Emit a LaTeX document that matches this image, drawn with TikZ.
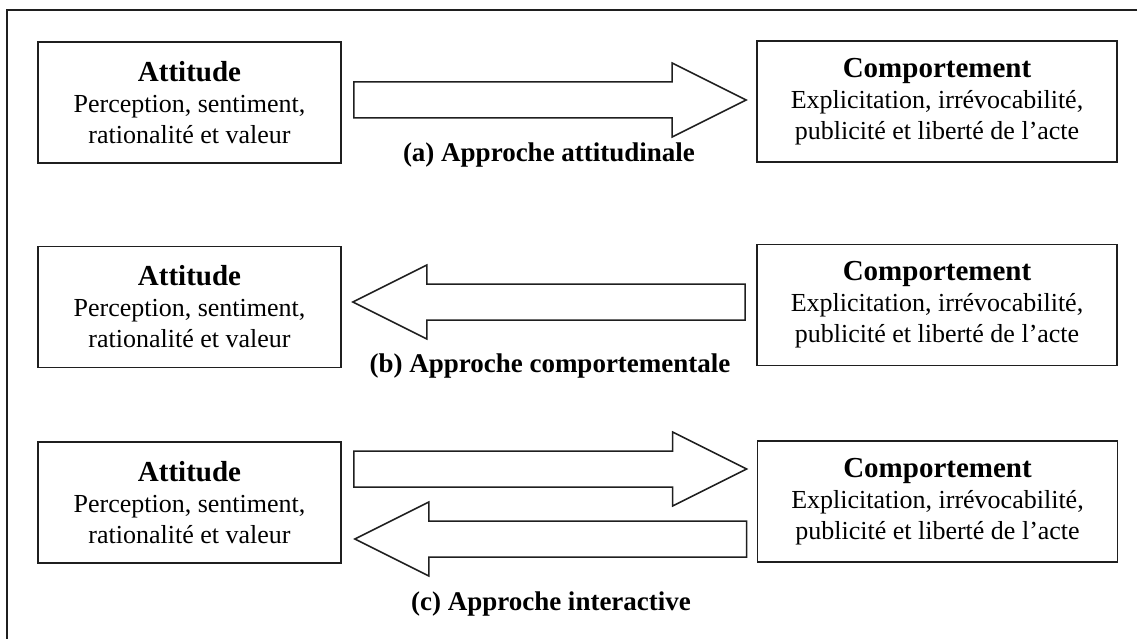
\documentclass[tikz,border=0pt]{standalone}
\usepackage{fontspec}
\setmainfont{Liberation Serif}
\usetikzlibrary{calc}

% font sizes (1 unit = 1pt)
\newcommand\titlefont{\fontsize{29}{31}\selectfont\bfseries}
\newcommand\bodyfont{\fontsize{26}{31}\selectfont}
\newcommand\capfont{\fontsize{27}{31}\selectfont\bfseries}

% hollow block arrow from #1 to #2 (horizontal); #3 = 1 to the right, -1 to the left
\newcommand\hollowarrow[3]{%
  \draw[arrowline] let \p1=#1, \p2=#2 in
    (\x1,{\y1+18pt}) -- ({\x2-(#3)*74pt},{\y1+18pt}) -- ({\x2-(#3)*74pt},{\y1+37pt})
    -- (\x2,\y1) -- ({\x2-(#3)*74pt},{\y1-37pt}) -- ({\x2-(#3)*74pt},{\y1-18pt})
    -- (\x1,{\y1-18pt}) -- cycle;}

\begin{document}
\begin{tikzpicture}[x=1pt,y=-1pt,
  ink/.style={draw=black!88, line width=1.8pt},
  leftbox/.style={ink, minimum width=303pt, minimum height=121pt, inner sep=0pt,
                  align=center, font=\bodyfont},
  rightbox/.style={leftbox, minimum width=360pt},
  arrowline/.style={draw=black!88, line width=1.5pt, line join=miter},
  caption/.style={font=\capfont, anchor=base, inner sep=0pt}]
\useasboundingbox (0,0) rectangle (1143,639);

% outer frame (top and left sides)
\draw[ink] (1137,10) -- (7,10) -- (7,650);

% (a) attitudinal approach
\node[leftbox]  (A1) at (189.5,102.5) {{\titlefont Attitude}\\Perception, sentiment,\\rationalité et valeur};
\node[rightbox] (C1) at (937,101.5) {{\titlefont Comportement}\\Explicitation, irrévocabilité,\\publicité et liberté de l’acte};
\hollowarrow{($(A1.east)+(12,-2.5)$)}{($(C1.west)+(-10,0)$)}{1}
\node[caption] (La) at (549,162) {(a) Approche attitudinale};

% (b) behavioural approach
\node[leftbox]  (A2) at (189.5,307) {{\titlefont Attitude}\\Perception, sentiment,\\rationalité et valeur};
\node[rightbox] (C2) at (937,305) {{\titlefont Comportement}\\Explicitation, irrévocabilité,\\publicité et liberté de l’acte};
\hollowarrow{($(C2.west)+(-11,-3)$)}{($(A2.east)+(11,0)$)}{-1}
\node[caption] (Lb) at (550,372) {(b) Approche comportementale};

% (c) interactive approach
\node[leftbox]  (A3) at (189.5,502.5) {{\titlefont Attitude}\\Perception, sentiment,\\rationalité et valeur};
\node[rightbox] (C3) at (937.5,501.5) {{\titlefont Comportement}\\Explicitation, irrévocabilité,\\publicité et liberté de l’acte};
\hollowarrow{($(A3.east)+(12,-33.5)$)}{($(C3.west)+(-10,0)$)}{1}
\hollowarrow{($(C3.west)+(-10,37.5)$)}{($(A3.east)+(13,0)$)}{-1}
\node[caption] (Lc) at (551,610) {(c) Approche interactive};
\end{tikzpicture}
\end{document}
